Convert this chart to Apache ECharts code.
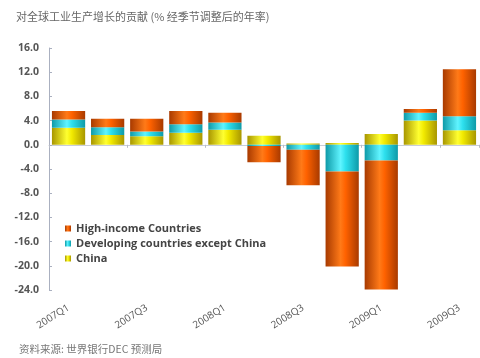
<!DOCTYPE html>
<html>
<head>
<meta charset="utf-8">
<script src="https://cdn.jsdelivr.net/npm/echarts@6/dist/echarts.min.js"></script>
<style>
html,body{margin:0;padding:0;background:#fff;}
#chart{width:480px;height:358px;}
</style>
</head>
<body>
<div id="chart"></div>
<script>
// Quarters on the category axis
const quarters = ['2007Q1','2007Q2','2007Q3','2007Q4','2008Q1','2008Q2','2008Q3','2008Q4','2009Q1','2009Q2','2009Q3'];
// Contributions to global industrial production growth (percentage points)
const china      = [2.8, 1.6, 1.4, 2.0, 2.5, 1.5, 0.2, 0.3, 1.8, 4.0, 2.4];
const developing = [1.4, 1.3, 0.8, 1.4, 1.2, -0.2, -0.8, -4.4, -2.6, 1.3, 2.3];
const highIncome = [1.4, 1.4, 2.1, 2.2, 1.6, -2.7, -5.9, -15.7, -21.3, 0.6, 7.8];
// Value axis
const yMin = -24, yMax = 16, yStep = 4;

const names = {
  high: 'High-income Countries',
  dev: 'Developing countries except China',
  china: 'China'
};

function tube(edge, mid, light) {
  return {
    type: 'linear', x: 0, y: 0, x2: 1, y2: 0,
    colorStops: [
      {offset: 0, color: edge},
      {offset: 0.45, color: light},
      {offset: 0.6, color: mid},
      {offset: 1, color: edge}
    ]
  };
}

const chart = echarts.init(document.getElementById('chart'));
chart.setOption({
  animation: false,
  backgroundColor: '#fff',
  title: [{
    text: '对全球工业生产增长的贡献 (% 经季节调整后的年率)',
    left: 11, top: 6,
    textStyle: {fontSize: 11, fontWeight: 'normal', color: '#666', fontFamily: 'Noto Sans CJK SC'}
  }, {
    text: '资料来源: 世界银行DEC 预测局',
    left: 14, top: 339,
    textStyle: {fontSize: 10.5, fontWeight: 'normal', color: '#777', fontFamily: 'Noto Sans CJK SC'}
  }],
  legend: {
    data: [names.high, names.dev, names.china],
    orient: 'vertical',
    left: 60, top: 218,
    itemWidth: 6, itemHeight: 6, itemGap: 4,
    icon: 'rect',
    textStyle: {fontSize: 11, fontWeight: 'bold', color: '#444', fontFamily: 'Open Sans'}
  },
  grid: {left: 49, right: 1, top: 48, bottom: 68, containLabel: false},
  xAxis: [{
    type: 'category',
    data: quarters,
    position: 'bottom',
    axisLine: {show: false, onZero: false},
    axisTick: {show: false},
    axisLabel: {
      interval: 1, rotate: 32, margin: 17,
      fontSize: 10, color: '#555', fontFamily: 'Open Sans'
    }
  }, {
    type: 'category',
    data: quarters,
    position: 'top',
    axisLine: {show: true, onZero: true, lineStyle: {color: '#c8cdd8', width: 1}},
    axisTick: {show: true, inside: true, length: 3, lineStyle: {color: '#b8bcc8'}},
    axisLabel: {show: false}
  }],
  yAxis: {
    type: 'value',
    min: yMin, max: yMax, interval: yStep,
    axisLine: {show: true, lineStyle: {color: '#aab0c0'}},
    axisTick: {show: true, inside: true, length: 3, lineStyle: {color: '#aab0c0'}},
    splitLine: {show: false},
    axisLabel: {
      formatter: v => v.toFixed(1),
      fontSize: 10.5, fontWeight: 'bold', color: '#555', margin: 10, fontFamily: 'Open Sans'
    }
  },
  series: [{
    name: names.china, type: 'bar', stack: 'total', data: china,
    barCategoryGap: '15%',
    itemStyle: {color: tube('#a89600', '#f2ea00', '#ffff30')}
  }, {
    name: names.dev, type: 'bar', stack: 'total', data: developing,
    barCategoryGap: '15%',
    itemStyle: {color: tube('#0e9aa8', '#2ee0ee', '#60f4ff')}
  }, {
    name: names.high, type: 'bar', stack: 'total', data: highIncome,
    barCategoryGap: '15%',
    itemStyle: {color: tube('#a83a00', '#ff6200', '#ff7a18')}
  }]
});
</script>
</body>
</html>
